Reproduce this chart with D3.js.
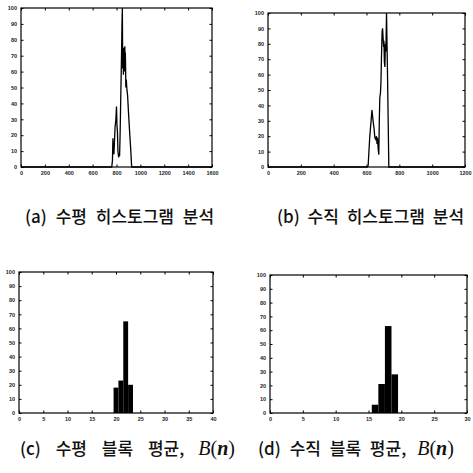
<!DOCTYPE html>
<html><head><meta charset="utf-8">
<script src="https://cdn.jsdelivr.net/npm/d3@7"></script>
<style>body{margin:0;background:#fff}svg{display:block}</style>
</head><body>
<svg id="c" width="473" height="473"></svg>
<script>
// Panel (a): horizontal histogram
const aX = [0, 760, 766, 770, 774, 778, 782, 788, 795, 800, 804, 808, 812, 818, 822, 826, 830, 836, 842, 846, 849, 852, 855, 858, 861, 864, 866, 868, 870, 872, 874, 876, 878, 882, 888, 893, 900, 910, 920, 927, 1600];
const aY = [0, 0, 4, 18, 10, 8, 14, 25, 30, 38, 26, 22, 10, 6, 8, 7, 20, 45, 70, 90, 100, 62, 72, 58, 75, 60, 74, 62, 76, 60, 72, 64, 50, 55, 48, 45, 35, 22, 10, 0, 0];
// Panel (b): vertical histogram
const bX = [0, 605, 610, 620, 628, 633, 637, 641, 646, 651, 656, 661, 664, 667, 671, 675, 678, 681, 685, 688, 692, 695, 698, 701, 704, 706, 709, 712, 715, 718, 722, 728, 732, 736, 1200];
const bY = [0, 0, 1, 20, 30, 37, 33, 29, 25, 19, 18, 20, 15, 19, 12, 8, 30, 45, 48, 55, 75, 88, 90, 84, 78, 82, 68, 65, 80, 75, 100, 60, 30, 0, 0];
// Panel (c): horizontal block mean B(n)
const cBins = [20, 21, 22, 23];
const cVals = [18, 23, 65, 20];
// Panel (d): vertical block mean B(n)
const dBins = [16, 17, 18, 19];
const dVals = [6, 21, 63, 28];

const aTicks = [0, 200, 400, 600, 800, 1000, 1200, 1400, 1600];
const bTicks = [0, 200, 400, 600, 800, 1000, 1200];
const cTicks = [0, 5, 10, 15, 20, 25, 30, 35, 40];
const dTicks = [0, 5, 10, 15, 20, 25, 30];
const yTicks = [0, 10, 20, 30, 40, 50, 60, 70, 80, 90, 100];

const captions = [
  {lab: "(a)", txt: "수평 히스토그램 분석", math: false},
  {lab: "(b)", txt: "수직 히스토그램 분석", math: false},
  {lab: "(c)", txt: "수평 블록 평균,", math: true},
  {lab: "(d)", txt: "수직 블록 평균,", math: true}
];

const svg = d3.select("#c");

function panel(box, xDom, xT, draw) {
  const g = svg.append("g");
  const x = d3.scaleLinear().domain(xDom).range([box.l, box.r]);
  const y = d3.scaleLinear().domain([0, 100]).range([box.b, box.t]);
  draw(g, x, y);
  const fs = "font-family:'Liberation Sans',Arial,sans-serif;font-size:5.5px;font-weight:bold;fill:#222";
  g.append("g").attr("transform", `translate(0,${box.b})`)
    .call(d3.axisBottom(x).tickValues(xT).tickSize(-2.5).tickPadding(4).tickFormat(d3.format("d")))
    .call(s => s.select(".domain").remove())
    .selectAll("text").attr("style", fs);
  g.append("g").attr("transform", `translate(0,${box.t})`)
    .call(d3.axisTop(x).tickValues(xT).tickSize(-2.5).tickFormat(""))
    .call(s => s.select(".domain").remove());
  g.append("g").attr("transform", `translate(${box.l},0)`)
    .call(d3.axisLeft(y).tickValues(yTicks).tickSize(-2.5).tickPadding(4))
    .call(s => s.select(".domain").remove())
    .selectAll("text").attr("style", fs);
  g.append("g").attr("transform", `translate(${box.r},0)`)
    .call(d3.axisRight(y).tickValues(yTicks).tickSize(-2.5).tickFormat(""))
    .call(s => s.select(".domain").remove());
  g.selectAll(".tick line").attr("stroke", "#000").attr("stroke-width", 1);
  g.append("rect").attr("x", box.l).attr("y", box.t).attr("width", box.r - box.l).attr("height", box.b - box.t)
    .attr("fill", "none").attr("stroke", "#000").attr("stroke-width", 1.2);
}

function linePanel(xs, ys) {
  return (g, x, y) => {
    const pts = xs.map((d, i) => [d, ys[i]]);
    g.append("path").datum(pts)
      .attr("d", d3.line().x(d => x(d[0])).y(d => y(d[1])))
      .attr("fill", "none").attr("stroke", "#000").attr("stroke-width", 1.3);
  };
}
function barPanel(bins, vals) {
  return (g, x, y) => {
    g.selectAll("rect.bar").data(bins).join("rect").attr("class", "bar")
      .attr("x", d => x(d - 0.5)).attr("width", d => x(d + 0.5) - x(d - 0.5))
      .attr("y", (d, i) => y(vals[i])).attr("height", (d, i) => y(0) - y(vals[i]))
      .attr("fill", "#000");
  };
}

panel({l: 21, r: 212, t: 8, b: 167}, [0, 1600], aTicks, linePanel(aX, aY));
panel({l: 268, r: 465, t: 13, b: 167}, [0, 1200], bTicks, linePanel(bX, bY));
panel({l: 19, r: 213, t: 272, b: 413}, [0, 40], cTicks, barPanel(cBins, cVals));
panel({l: 270, r: 467, t: 275, b: 413}, [0, 30], dTicks, barPanel(dBins, dVals));

const capPos = [[25, 223], [277, 223], [20, 455], [258, 455]];
const capSpacing = [5, 4, 11, 5];
const mathGap = [0, 0, 14, 11];
captions.forEach((c, i) => {
  const t = svg.append("text").attr("x", capPos[i][0]).attr("y", capPos[i][1])
    .attr("style", `font-family:'Noto Sans CJK KR',sans-serif;font-size:17px;font-weight:500;fill:#111;word-spacing:${capSpacing[i]}px`);
  t.append("tspan").text(c.lab + " " + c.txt);
  if (c.math) {
    const ms = "font-family:'Liberation Serif',serif;font-size:20px;";
    t.append("tspan").attr("dx", mathGap[i]).attr("style", ms + "font-style:italic").text("B");
    t.append("tspan").attr("style", ms).text("(");
    t.append("tspan").attr("style", ms + "font-style:italic;font-weight:bold").text("n");
    t.append("tspan").attr("style", ms).text(")");
  }
});
</script>
</body></html>
